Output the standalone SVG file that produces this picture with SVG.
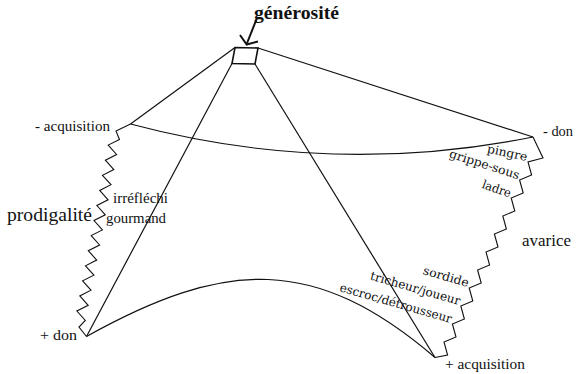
<svg xmlns="http://www.w3.org/2000/svg" width="577" height="374" viewBox="0 0 577 374">
<defs>
<style type="text/css">
.ln{fill:none;stroke:#111;stroke-width:1.2;stroke-linejoin:miter}
.zz{fill:none;stroke:#111;stroke-width:1.1;stroke-linejoin:miter}
.bx{fill:none;stroke:#111;stroke-width:1.6}
</style>
</defs>
<rect width="577" height="374" fill="#fff"/>
<g id="connectors">
<line class="ln" x1="235" y1="47.5" x2="130.5" y2="124"/>
<line class="ln" x1="258" y1="48" x2="533" y2="137"/>
<line class="ln" x1="232" y1="63.5" x2="86.5" y2="336.5"/>
<line class="ln" x1="255" y1="64" x2="435" y2="357.5"/>
<path class="ln" d="M130.5,124 Q331.5,177.5 533,137"/>
<path class="ln" d="M86.5,336.5 C226,259 315,255 435,357.5"/>
<polyline class="zz" points="130.5,124 116,131 119.5,139.5 108.2,145.1 116.6,154.5 105.4,160.2 113.8,169.6 102.5,175.3 111,184.7 99.7,190.4 108.1,199.8 96.9,205.5 105.3,214.8 94,220.5 102.4,229.9 91.2,235.6 99.6,245 88.3,250.7 96.7,260.1 85.5,265.8 93.9,275.2 82.6,280.8 91,290.2 79.8,295.9 88.2,305.3 76.9,311 85.3,320.4 79,327 86.5,336.5"/>
<polyline class="zz" points="533,137 543,158 528,162 531.6,175 519.6,180 523.2,193 511.2,198 514.8,211 502.8,216 506.4,229 494.4,234 498,247 486,252 489.6,265 477.6,270 481.2,283 469.2,288 472.8,301 460.8,306 464.4,319 452.4,324 456,337 444,342 447.6,355 435,357.5"/>
</g>
<g id="generosite" font-family="Liberation Serif, Times New Roman, serif" fill="#111">
<path class="bx" d="M235,47.5 L258,48 L255,64 L232,63.5 Z"/>
<line x1="257" y1="18" x2="246.7" y2="44" stroke="#111" stroke-width="2"/>
<path d="M240,35 L246.7,44.5 L258,41.5" fill="none" stroke="#111" stroke-width="2"/>
<text x="254" y="19" font-size="19" font-weight="bold" textLength="85" lengthAdjust="spacingAndGlyphs">générosité</text>
</g>
<g id="moins-acquisition" font-family="Liberation Serif, Times New Roman, serif" font-size="15" fill="#111">
<text x="35" y="131" textLength="75" lengthAdjust="spacingAndGlyphs">- acquisition</text>
</g>
<g id="moins-don" font-family="Liberation Serif, Times New Roman, serif" font-size="15" fill="#111">
<text x="543" y="136" textLength="30" lengthAdjust="spacingAndGlyphs">- don</text>
</g>
<g id="plus-don" font-family="Liberation Serif, Times New Roman, serif" font-size="15" fill="#111">
<text x="40" y="340" textLength="37" lengthAdjust="spacingAndGlyphs">+ don</text>
</g>
<g id="plus-acquisition" font-family="Liberation Serif, Times New Roman, serif" font-size="15" fill="#111">
<text x="445" y="369" textLength="80" lengthAdjust="spacingAndGlyphs">+ acquisition</text>
</g>
<g id="prodigalite" font-family="Liberation Serif, Times New Roman, serif" font-size="15" fill="#111">
<text x="7" y="221" font-size="19.5" textLength="85" lengthAdjust="spacingAndGlyphs">prodigalité</text>
<text x="113" y="203" textLength="55" lengthAdjust="spacingAndGlyphs">irréfléchi</text>
<text x="106" y="223" textLength="60" lengthAdjust="spacingAndGlyphs">gourmand</text>
</g>
<g id="avarice" font-family="Liberation Serif, Times New Roman, serif" fill="#111">
<text x="522" y="246" font-size="17" textLength="49" lengthAdjust="spacingAndGlyphs">avarice</text>
<g font-family="DejaVu Serif, Liberation Serif, serif" font-size="12" text-anchor="end">
<text transform="translate(526.5,161) rotate(12)" textLength="41" lengthAdjust="spacingAndGlyphs">pingre</text>
<text transform="translate(518,179.5) rotate(18)" textLength="73" lengthAdjust="spacingAndGlyphs">grippe-sous</text>
<text transform="translate(509.5,197.5) rotate(19)" textLength="30" lengthAdjust="spacingAndGlyphs">ladre</text>
<text transform="translate(467.5,287) rotate(16)" textLength="47" lengthAdjust="spacingAndGlyphs">sordide</text>
<text transform="translate(459,305) rotate(16)" textLength="93" lengthAdjust="spacingAndGlyphs">tricheur/joueur</text>
<text transform="translate(450.5,323) rotate(16)" textLength="116" lengthAdjust="spacingAndGlyphs">escroc/détrousseur</text>
</g>
</g>
</svg>
